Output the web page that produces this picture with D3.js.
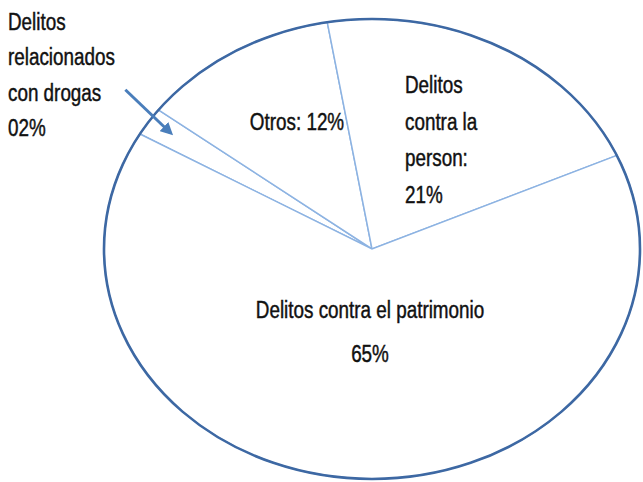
<!DOCTYPE html>
<html>
<head>
<meta charset="utf-8">
<title>Delitos</title>
<script src="https://d3js.org/d3.v7.min.js"></script>
<style>
html, body {
	margin: 0;
	padding: 0;
	background: #fff;
}
#chart text {
	font-family: "Liberation Sans", Arial, sans-serif;
	font-size: 23px;
	fill: #111;
	stroke: #111;
	stroke-width: 0.45px;
}
</style>
</head>
<body>
<div id="chart"></div>
<script>
	// data, in drawing order (clockwise from the drugs slice)
	var keys = ["drogas", "otros", "persona", "patrimonio"];
	var values = [2, 12, 21, 65];
	var nameLines = [
		["Delitos", "relacionados", "con drogas"],
		["Otros:"],
		["Delitos", "contra la", "person:"],
		["Delitos contra el patrimonio"]
	];

	var width = 643, height = 482;
	var cx = 372, cy = 249, rx = 268, ry = 230;
	var squeeze = 0.82; // the text in the original is tall and narrow

	// label layout: anchor, first baseline relative to the pie center, line step
	var labelLayout = {
		drogas:     { x: -364, y: -219, anchor: "start",  step: 35.3, inline: false },
		otros:      { x: -75,  y: -119, anchor: "middle", step: 0,    inline: true },
		persona:    { x: 33,   y: -156, anchor: "start",  step: 36.7, inline: false },
		patrimonio: { x: -2,   y: 69,   anchor: "middle", step: 44,   inline: false }
	};

	var pct = v => d3.format("02d")(v) + "%";

	var svg = d3.select("#chart").append("svg")
		.attr("width", width)
		.attr("height", height);

	var pie = d3.pie()
		.sort(null)
		.startAngle(-60 * Math.PI / 180)
		.endAngle(300 * Math.PI / 180);
	var arcs = pie(values);

	var arc = d3.arc().innerRadius(0).outerRadius(1);

	// slices drawn on a unit circle, stretched to the ellipse
	var g = svg.append("g")
		.attr("transform", `translate(${cx},${cy}) scale(${rx},${ry})`);

	g.selectAll("path.slice")
		.data(arcs)
		.join("path")
		.attr("class", "slice")
		.attr("d", arc)
		.attr("fill", "#fff")
		.attr("stroke", "#8db3e2")
		.attr("stroke-width", 1.5)
		.attr("vector-effect", "non-scaling-stroke");

	g.append("ellipse")
		.attr("rx", 1)
		.attr("ry", 1)
		.attr("fill", "none")
		.attr("stroke", "#3d68a3")
		.attr("stroke-width", 2.6)
		.attr("vector-effect", "non-scaling-stroke");

	// arrow pointing at the thin drugs slice
	var defs = svg.append("defs");
	defs.append("marker")
		.attr("id", "head")
		.attr("viewBox", "0 0 10 10")
		.attr("refX", 7)
		.attr("refY", 5)
		.attr("markerWidth", 4.2)
		.attr("markerHeight", 4.2)
		.attr("orient", "auto")
		.append("path")
		.attr("d", "M0,0 L10,5 L0,10 z")
		.attr("fill", "#4a7ebb");

	var a0 = arcs[0];
	var mid = (a0.startAngle + a0.endAngle) / 2;
	var tip = [cx + 0.89 * rx * Math.sin(mid), cy - 0.89 * ry * Math.cos(mid)];
	svg.append("line")
		.attr("x1", tip[0] - 48)
		.attr("y1", tip[1] - 46)
		.attr("x2", tip[0] - 3)
		.attr("y2", tip[1] - 3)
		.attr("stroke", "#4a7ebb")
		.attr("stroke-width", 3)
		.attr("marker-end", "url(#head)");

	// labels
	var labels = svg.append("g")
		.attr("transform", `translate(${cx},${cy})`);

	keys.forEach(function(k, i) {
		var L = labelLayout[k];
		var lines = nameLines[i].slice();
		if (L.inline) {
			lines[lines.length - 1] += " " + pct(values[i]);
		} else {
			lines.push(pct(values[i]));
		}
		var t = labels.append("g")
			.attr("transform", `translate(${L.x},${L.y})`)
			.append("text")
			.attr("transform", `scale(${squeeze},1)`)
			.attr("text-anchor", L.anchor);
		t.selectAll("tspan")
			.data(lines)
			.join("tspan")
			.attr("x", 0)
			.attr("y", (d, j) => j * L.step)
			.text(d => d);
	});
</script>
</body>
</html>
